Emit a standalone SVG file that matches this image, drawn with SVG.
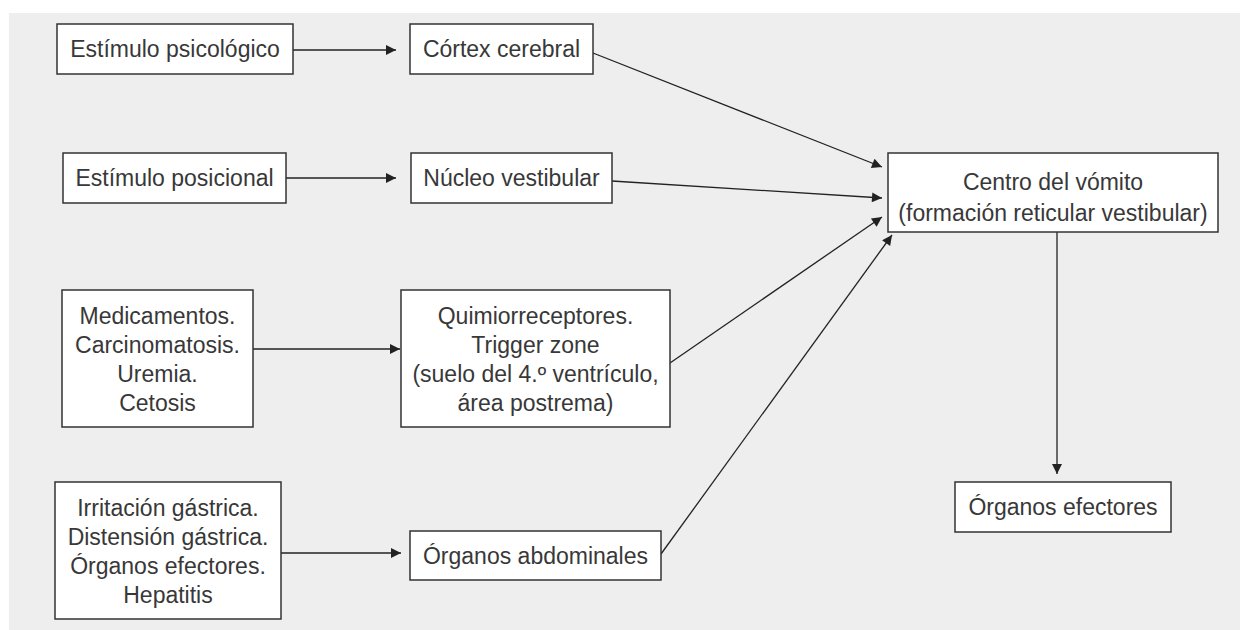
<svg xmlns="http://www.w3.org/2000/svg" width="1240" height="630" viewBox="0 0 1240 630">
<style>
.bg{fill:#eeeeee}
.box{fill:#ffffff;stroke:#333333;stroke-width:1.5}
.t{font-family:"Liberation Sans",Arial,sans-serif;font-size:23px;fill:#383838;text-anchor:middle}
.c{stroke:#222222;stroke-width:1.3;fill:none;marker-end:url(#ah)}
</style>
<defs>
<marker id="ah" viewBox="0 0 10 10" refX="10" refY="5" markerWidth="14" markerHeight="10" markerUnits="userSpaceOnUse" orient="auto">
<path d="M0,0 L10,5 L0,10 z" fill="#222222"/>
</marker>
</defs>
<rect class="bg" x="9" y="13" width="1231" height="617"/>
<g id="connectors">
<line class="c" x1="293" y1="50" x2="396" y2="50"/>
<line class="c" x1="286" y1="178" x2="396" y2="178"/>
<line class="c" x1="253" y1="349" x2="400" y2="349"/>
<line class="c" x1="281" y1="553" x2="401" y2="553"/>
<line class="c" x1="593" y1="53" x2="882" y2="167"/>
<line class="c" x1="612" y1="181" x2="882" y2="198"/>
<line class="c" x1="670" y1="363" x2="882" y2="217"/>
<line class="c" x1="661" y1="554" x2="892" y2="235"/>
<line class="c" x1="1057" y1="232" x2="1057" y2="474"/>
</g>
<g id="n1"><rect class="box" x="57" y="24" width="236" height="50"/><text class="t" x="175" y="57">Estímulo psicológico</text></g>
<g id="n2"><rect class="box" x="410" y="24" width="183" height="50"/><text class="t" x="501.5" y="57">Córtex cerebral</text></g>
<g id="n3"><rect class="box" x="63" y="153" width="223" height="50"/><text class="t" x="174.5" y="186">Estímulo posicional</text></g>
<g id="n4"><rect class="box" x="411" y="153" width="201" height="50"/><text class="t" x="511.5" y="186">Núcleo vestibular</text></g>
<g id="n5"><rect class="box" x="888" y="153" width="330" height="79"/><text class="t" x="1053" y="190">Centro del vómito</text><text class="t" x="1053" y="221">(formación reticular vestibular)</text></g>
<g id="n6"><rect class="box" x="62" y="290" width="191" height="137"/><text class="t" x="157.5" y="324">Medicamentos.</text><text class="t" x="157.5" y="353">Carcinomatosis.</text><text class="t" x="157.5" y="382">Uremia.</text><text class="t" x="157.5" y="411">Cetosis</text></g>
<g id="n7"><rect class="box" x="401" y="290" width="269" height="137"/><text class="t" x="535.5" y="324">Quimiorreceptores.</text><text class="t" x="535.5" y="353">Trigger zone</text><text class="t" x="535.5" y="382">(suelo del 4.º ventrículo,</text><text class="t" x="535.5" y="411">área postrema)</text></g>
<g id="n8"><rect class="box" x="55" y="482" width="226" height="137"/><text class="t" x="168" y="516">Irritación gástrica.</text><text class="t" x="168" y="545">Distensión gástrica.</text><text class="t" x="168" y="574">Órganos efectores.</text><text class="t" x="168" y="603">Hepatitis</text></g>
<g id="n9"><rect class="box" x="410" y="531" width="251" height="49"/><text class="t" x="535.5" y="564">Órganos abdominales</text></g>
<g id="n10"><rect class="box" x="955" y="482" width="216" height="50"/><text class="t" x="1063" y="515">Órganos efectores</text></g>
</svg>
